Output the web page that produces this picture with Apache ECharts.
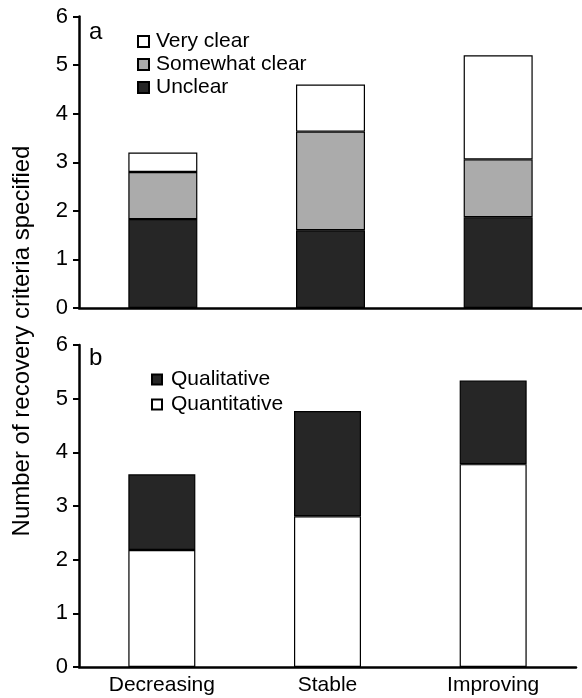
<!DOCTYPE html>
<html>
<head>
<meta charset="utf-8">
<script src="https://cdn.jsdelivr.net/npm/echarts@6/dist/echarts.min.js"></script>
<style>html,body{margin:0;padding:0;background:#fff;}#c{width:582px;height:698px;}</style>
</head>
<body>
<div id="c"></div>
<script>
const categories = ['Decreasing', 'Stable', 'Improving'];
const yTicks = [0, 1, 2, 3, 4, 5, 6];
// Panel a
const unclear = [1.83, 1.60, 1.87];
const somewhatClear = [0.97, 2.03, 1.19];
const veryClear = [0.40, 0.97, 2.14];
// Panel b
const quantitative = [2.18, 2.81, 3.78];
const qualitative = [1.41, 1.96, 1.56];

const FONT = 'Liberation Sans, Arial, Helvetica, sans-serif';
const DARK = '#262626', GRAY = '#ababab', WHITE = '#ffffff';

const chart = echarts.init(document.getElementById('c'), null, {renderer: 'canvas'});

function yAxis(gi) {
  return {
    type: 'value', gridIndex: gi, min: 0, max: 6, interval: 1,
    axisLine: {show: true, lineStyle: {color: '#000', width: 2.5}},
    axisTick: {show: true, length: 6, lineStyle: {color: '#000', width: 2}},
    axisLabel: {color: '#000', fontSize: 22, fontFamily: FONT, margin: 11,
      formatter: v => yTicks.includes(v) ? String(v) : ''},
    splitLine: {show: false}
  };
}
function xAxis(gi, showLabel) {
  return {
    type: 'category', gridIndex: gi, data: categories,
    axisLine: {show: true, lineStyle: {color: '#000', width: 2.5}},
    axisTick: {show: false},
    axisLabel: {show: showLabel, color: '#000', fontSize: 21, fontFamily: FONT, margin: 8}
  };
}
function bar(name, data, color, gi, stack, w) {
  return {
    name, type: 'bar', data, stack, xAxisIndex: gi, yAxisIndex: gi,
    barWidth: w,
    itemStyle: {color, borderColor: '#000', borderWidth: 1.2},
    emphasis: {disabled: true}, animation: false
  };
}

chart.setOption({
  animation: false,
  grid: [
    {left: 79, width: 507, top: 16.5, height: 291.5},
    {left: 79, width: 497, top: 345, height: 322}
  ],
  xAxis: [xAxis(0, false), xAxis(1, true)],
  yAxis: [yAxis(0), yAxis(1)],
  legend: [
    {data: ['Very clear', 'Somewhat clear', 'Unclear'], orient: 'vertical', left: 132, top: 26,
      itemWidth: 11, itemHeight: 11, itemGap: 2, icon: 'rect', selectedMode: false,
      textStyle: {fontSize: 21, fontFamily: FONT, color: '#000', padding: [0, 0, 0, 2]}},
    {data: ['Qualitative', 'Quantitative'], orient: 'vertical', left: 146, top: 364,
      itemWidth: 10, itemHeight: 10, itemGap: 4, icon: 'rect', selectedMode: false,
      textStyle: {fontSize: 21, fontFamily: FONT, color: '#000', padding: [0, 0, 0, 4]}}
  ],
  series: [
    bar('Unclear', unclear, DARK, 0, 'a', 69),
    bar('Somewhat clear', somewhatClear, GRAY, 0, 'a', 69),
    bar('Very clear', veryClear, WHITE, 0, 'a', 69),
    bar('Quantitative', quantitative, WHITE, 1, 'b', 67),
    bar('Qualitative', qualitative, DARK, 1, 'b', 67)
  ],
  graphic: [
    {type: 'text', left: 89, top: 20, style: {text: 'a', fontSize: 24, fontFamily: FONT, fill: '#000'}},
    {type: 'text', left: 89, top: 346, style: {text: 'b', fontSize: 24, fontFamily: FONT, fill: '#000'}},
    {type: 'text', x: 22, y: 341, rotation: Math.PI / 2,
      style: {text: 'Number of recovery criteria specified', fontSize: 24, fontFamily: FONT, fill: '#000',
        align: 'center', verticalAlign: 'middle'}}
  ]
});
</script>
</body>
</html>
